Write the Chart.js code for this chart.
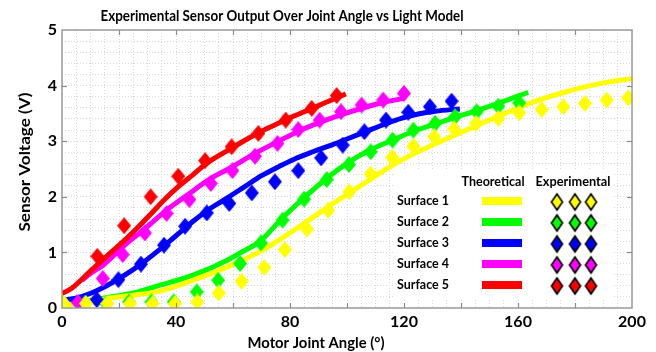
<!DOCTYPE html>
<html><head><meta charset="utf-8">
<script src="https://cdn.jsdelivr.net/npm/chart.js@4/dist/chart.umd.min.js"></script>
<style>html,body{margin:0;padding:0;background:#fff}#wrap{width:656px;height:352px;position:relative}</style>
</head><body><div id="wrap"><canvas id="c" width="656" height="352"></canvas></div>
<script>
const chartTitle = 'Experimental Sensor Output Over Joint Angle vs Light Model';
const xAxisTitle = 'Motor Joint Angle (°)';
const yAxisTitle = 'Sensor Voltage (V)';
const surfaceNames = ['Surface 1', 'Surface 2', 'Surface 3', 'Surface 4', 'Surface 5'];
const surfaceColors = ['#ffff00', '#00ff00', '#0000ff', '#ff00ff', '#ff0000'];
const legendHeaders = ['Theoretical', 'Experimental'];
const xTickLabels = [0, 40, 80, 120, 160, 200];
const yTickLabels = [0, 1, 2, 3, 4, 5];

// Theoretical (light model) curves
const theoAngle1 = [2, 10, 16, 25, 34, 46, 58, 70, 82, 94, 106, 118, 130, 142, 154, 165, 177, 189, 200];
const theoVolt1  = [0.05, 0.11, 0.17, 0.23, 0.30, 0.50, 0.74, 1.03, 1.42, 1.84, 2.24, 2.63, 2.93, 3.20, 3.47, 3.70, 3.89, 4.04, 4.13];
const theoAngle2 = [2, 16, 25, 34.4, 46, 58, 62.5, 69.5, 77, 84.7, 92.6, 100, 108, 116, 123, 131, 138, 146, 154, 163.6];
const theoVolt2  = [0.06, 0.19, 0.27, 0.41, 0.59, 0.86, 0.99, 1.20, 1.60, 1.97, 2.32, 2.60, 2.84, 3.02, 3.17, 3.31, 3.43, 3.56, 3.70, 3.88];
const theoAngle3 = [0, 4.4, 10.3, 16, 22, 28, 34, 40, 46, 52, 58, 64, 70, 76, 82, 88, 94, 100, 107, 113, 119, 125, 131, 139.6];
const theoVolt3  = [0.14, 0.17, 0.27, 0.41, 0.59, 0.80, 1.04, 1.30, 1.56, 1.79, 1.98, 2.18, 2.38, 2.54, 2.69, 2.81, 2.92, 3.04, 3.18, 3.30, 3.41, 3.49, 3.54, 3.58];
const theoAngle4 = [7, 10, 14.4, 22, 29.2, 36.7, 44.7, 52.2, 59.8, 67.7, 75.6, 83, 90, 97, 107, 113, 120];
const theoVolt4  = [0.50, 0.62, 0.77, 1.13, 1.43, 1.76, 2.06, 2.33, 2.54, 2.78, 2.99, 3.18, 3.33, 3.46, 3.62, 3.70, 3.77];
const theoAngle5 = [0, 3.3, 10.3, 16.1, 22, 27, 31, 36, 41, 46, 50, 55, 60, 65, 70, 75, 80, 85, 90, 95, 99.6];
const theoVolt5  = [0.26, 0.35, 0.68, 0.95, 1.22, 1.47, 1.68, 1.95, 2.19, 2.40, 2.57, 2.74, 2.89, 3.04, 3.18, 3.30, 3.42, 3.53, 3.64, 3.75, 3.85];

// Experimental measurements
const expAngle1 = [0.7, 8.4, 15.9, 23.9, 31.8, 39.6, 47.5, 55, 63, 71, 78.2, 85.9, 93.4, 100.8, 108.3, 115.9, 123.3, 130.6, 137.6, 145.3, 153.1, 160.4, 168.3, 175.9, 183.5, 191.1, 198.7];
const expVolt1  = [0.08, 0.08, 0.08, 0.08, 0.08, 0.08, 0.11, 0.27, 0.48, 0.73, 1.05, 1.42, 1.76, 2.09, 2.41, 2.71, 2.91, 3.08, 3.22, 3.32, 3.41, 3.51, 3.57, 3.62, 3.68, 3.74, 3.78];
const expAngle2 = [0.3, 8.0, 15.5, 23.5, 31.4, 39.2, 47.3, 54.8, 62.5, 69.8, 77.4, 85, 92.9, 100.7, 108.3, 116, 123.3, 130.9, 137.9, 145.5, 153.1, 160.4];
const expVolt2  = [0.08, 0.08, 0.08, 0.11, 0.11, 0.11, 0.29, 0.50, 0.80, 1.17, 1.58, 1.96, 2.31, 2.58, 2.81, 3.02, 3.20, 3.32, 3.44, 3.53, 3.63, 3.69];
const expAngle3 = [12.2, 19.8, 27.7, 35.8, 43.2, 50.8, 58.7, 66.6, 74.7, 82.9, 90.9, 98.5, 106.1, 113.7, 121.5, 129.1, 136.7];
const expVolt3  = [0.15, 0.51, 0.79, 1.13, 1.47, 1.71, 1.88, 2.07, 2.27, 2.47, 2.70, 2.93, 3.17, 3.38, 3.52, 3.62, 3.72];
const expAngle4 = [5.6, 14.3, 21.3, 29.1, 36.7, 44.7, 52.2, 59.8, 67.7, 75.6, 82.9, 90.4, 97.9, 105.1, 112.7, 120];
const expVolt4  = [0.10, 0.53, 0.96, 1.35, 1.70, 1.95, 2.24, 2.47, 2.73, 2.96, 3.21, 3.38, 3.53, 3.65, 3.74, 3.86];
const expAngle5 = [12.4, 21.8, 31.1, 40.8, 50.2, 59.5, 68.9, 78.5, 87.6, 96.4];
const expVolt5  = [0.93, 1.48, 2.00, 2.37, 2.65, 2.90, 3.14, 3.38, 3.59, 3.82];

const theoAngles = [theoAngle1, theoAngle2, theoAngle3, theoAngle4, theoAngle5];
const theoVolts = [theoVolt1, theoVolt2, theoVolt3, theoVolt4, theoVolt5];
const expAngles = [expAngle1, expAngle2, expAngle3, expAngle4, expAngle5];
const expVolts = [expVolt1, expVolt2, expVolt3, expVolt4, expVolt5];

const FONT = 'Lato, "Liberation Sans", sans-serif';

function makeDiamond(color, w, h, stroke) {
  const pad = stroke ? 2 : 0;
  const c = document.createElement('canvas');
  c.width = w + pad * 2; c.height = h + pad * 2;
  const g = c.getContext('2d');
  const cx = c.width / 2, cy = c.height / 2;
  g.beginPath();
  g.moveTo(cx, cy - h / 2); g.lineTo(cx + w / 2, cy); g.lineTo(cx, cy + h / 2); g.lineTo(cx - w / 2, cy); g.closePath();
  g.fillStyle = color; g.fill();
  if (stroke) { g.lineWidth = 1.6; g.strokeStyle = '#000'; g.stroke(); }
  return c;
}

const plotMarkers = surfaceColors.map(c => makeDiamond(c, 14, 17, false));
const legendMarkers = surfaceColors.map(c => makeDiamond(c, 11, 16, true));

const toXY = (xs, ys) => xs.map((x, i) => ({x: x, y: ys[i]}));

const datasets = [];
// draw order: lower "order" value is drawn on top
const lineOrder = [19, 20, 18, 17, 16];
const markOrder = [1, 5, 4, 3, 2];
for (let i = 0; i < 5; i++) {
  datasets.push({
    label: surfaceNames[i] + ' theoretical',
    data: toXY(theoAngles[i], theoVolts[i]),
    showLine: true, borderColor: surfaceColors[i], borderWidth: 5,
    pointRadius: 0, cubicInterpolationMode: 'monotone', fill: false,
    order: lineOrder[i], clip: 0
  });
}
for (let i = 0; i < 5; i++) {
  datasets.push({
    label: surfaceNames[i] + ' experimental',
    data: toXY(expAngles[i], expVolts[i]),
    showLine: false, pointStyle: plotMarkers[i], pointRadius: 8,
    backgroundColor: surfaceColors[i], borderColor: surfaceColors[i],
    order: markOrder[i], clip: 0
  });
}

const isInt = v => Math.abs(v - Math.round(v)) < 1e-6;

function fitText(ctx, text, x, y, targetWidth) {
  const w = ctx.measureText(text).width;
  const s = Math.min(1.15, targetWidth / w);
  ctx.save();
  ctx.translate(x, y);
  ctx.scale(s, 1);
  ctx.fillText(text, 0, 0);
  ctx.restore();
}

const decor = {
  id: 'decor',
  beforeDraw(chart) {
    const ctx = chart.ctx;
    ctx.save(); ctx.fillStyle = '#fff'; ctx.fillRect(0, 0, chart.width, chart.height); ctx.restore();
  },
  afterDraw(chart) {
    const ctx = chart.ctx, a = chart.chartArea;
    const xs = chart.scales.x, ys = chart.scales.y;
    ctx.save();
    // frame
    ctx.strokeStyle = '#9a9a9a'; ctx.lineWidth = 1.5;
    ctx.strokeRect(a.left, a.top, a.right - a.left, a.bottom - a.top);
    // inside tick marks
    ctx.lineWidth = 1.2; ctx.strokeStyle = '#8a8a8a';
    for (let v = 20; v < 200; v += 20) {
      const px = Math.round(xs.getPixelForValue(v)) + 0.5;
      ctx.beginPath(); ctx.moveTo(px, a.bottom); ctx.lineTo(px, a.bottom - 5); ctx.stroke();
      ctx.beginPath(); ctx.moveTo(px, a.top); ctx.lineTo(px, a.top + 5); ctx.stroke();
    }
    for (let v = 1; v < 5; v++) {
      const py = Math.round(ys.getPixelForValue(v)) + 0.5;
      ctx.beginPath(); ctx.moveTo(a.left, py); ctx.lineTo(a.left + 5, py); ctx.stroke();
      ctx.beginPath(); ctx.moveTo(a.right, py); ctx.lineTo(a.right - 5, py); ctx.stroke();
    }
    // titles
    ctx.fillStyle = '#000';
    ctx.textAlign = 'center'; ctx.textBaseline = 'alphabetic';
    ctx.font = 'bold 15.5px ' + FONT;
    fitText(ctx, chartTitle, 282, 21, 363);
    ctx.font = 'bold 16px ' + FONT;
    fitText(ctx, xAxisTitle, 316, 348, 137);
    ctx.save();
    ctx.translate(30, 162); ctx.rotate(-Math.PI / 2);
    fitText(ctx, yAxisTitle, 0, 0, 139);
    ctx.restore();
    // legend
    ctx.fillStyle = '#fff';
    ctx.fillRect(393, 171, 220, 128);
    ctx.fillStyle = '#000';
    ctx.font = 'bold 13px ' + FONT;
    ctx.textBaseline = 'middle'; ctx.textAlign = 'center';
    fitText(ctx, legendHeaders[0], 493, 182, 63);
    fitText(ctx, legendHeaders[1], 573, 182, 75);
    const rowY = [201, 222, 243, 264, 285];
    for (let i = 0; i < 5; i++) {
      ctx.textAlign = 'left'; ctx.fillStyle = '#000';
      fitText(ctx, surfaceNames[i], 397, rowY[i], 52);
      ctx.fillStyle = surfaceColors[i];
      ctx.fillRect(482, rowY[i] - 4, 40, 8);
      const m = legendMarkers[i];
      [557, 575, 591].forEach(cx => ctx.drawImage(m, cx - m.width / 2, rowY[i] + 1 - m.height / 2));
    }
    ctx.restore();
  }
};

new Chart(document.getElementById('c'), {
  type: 'scatter',
  data: { datasets: datasets },
  options: {
    responsive: false, animation: false, devicePixelRatio: 1,
    layout: { padding: { top: 30, right: 24, left: 0, bottom: 0 } },
    plugins: { legend: { display: false }, tooltip: { enabled: false }, title: { display: false } },
    scales: {
      x: {
        type: 'linear', min: 0, max: 200,
        ticks: {
          stepSize: 5, autoSkip: false, maxRotation: 0, padding: 4, color: '#000',
          font: { family: FONT, size: 16, weight: 'bold' },
          callback: v => xTickLabels.includes(Math.round(v)) && isInt(v) ? String(Math.round(v)) : ''
        },
        grid: { color: '#d9d9d9', lineWidth: 1, drawTicks: false },
        border: { display: false, dash: [1, 2] },
        afterFit: s => { s.height = 44; }
      },
      y: {
        type: 'linear', min: 0, max: 5,
        ticks: {
          stepSize: 0.2, autoSkip: false, padding: 5, color: '#000',
          font: { family: FONT, size: 16, weight: 'bold' },
          callback: v => isInt(v) && yTickLabels.includes(Math.round(v)) ? String(Math.round(v)) : ''
        },
        grid: { color: '#d9d9d9', lineWidth: 1, drawTicks: false },
        border: { display: false, dash: [1, 2] },
        afterFit: s => { s.width = 62; }
      }
    }
  },
  plugins: [decor]
});
</script></body></html>
